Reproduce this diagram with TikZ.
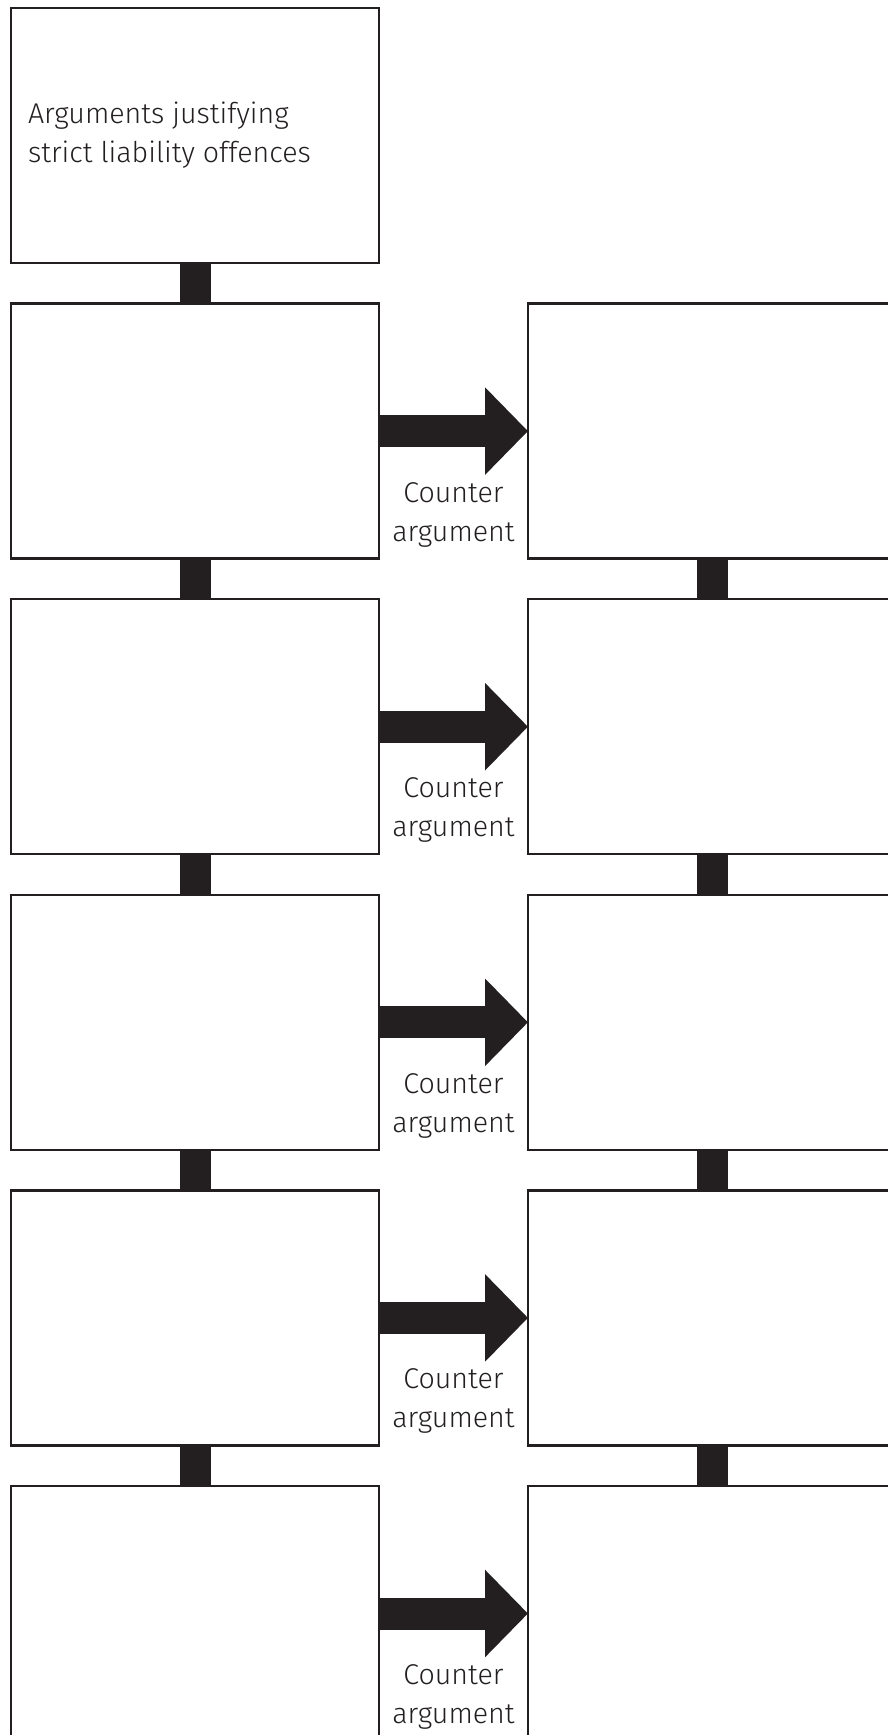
\documentclass[tikz,border=0pt]{standalone}
\usepackage{fontspec}
\setmainfont{Fira Sans}[UprightFont=* Light]
\usetikzlibrary{positioning,arrows.meta}

\definecolor{ink}{HTML}{231F20}

\tikzset{
  argbox/.style={draw=ink, line width=1.25pt, minimum width=184pt, minimum height=127.5pt, inner sep=0pt, outer sep=0pt},
  link/.style={draw=ink, line width=15.5pt},
  counter/.style={draw=ink, line width=16pt, -{Triangle[length=21.5pt,width=42.5pt]}},
  note/.style={text=ink, font=\fontsize{14.3}{19.5}\selectfont, inner sep=0pt}
}

\begin{document}
\begin{tikzpicture}
  \useasboundingbox (0,0) rectangle (444pt,-867.5pt);
  \clip (0,0) rectangle (444pt,-867.5pt);

  % left column
  \node[argbox, anchor=north west] (l1) at (5.5pt,-4pt) {};
  \node[argbox, below=20.3pt of l1] (l2) {};
  \node[argbox, below=20.3pt of l2] (l3) {};
  \node[argbox, below=20.3pt of l3] (l4) {};
  \node[argbox, below=20.3pt of l4] (l5) {};
  \node[argbox, below=20.3pt of l5] (l6) {};

  % right column
  \node[argbox, right=74.5pt of l2] (r2) {};
  \node[argbox, below=20.3pt of r2] (r3) {};
  \node[argbox, below=20.3pt of r3] (r4) {};
  \node[argbox, below=20.3pt of r4] (r5) {};
  \node[argbox, below=20.3pt of r5] (r6) {};

  \node[note, anchor=base west, align=left] (title) at ([xshift=8.3pt,yshift=-77.4pt]l1.north west)
    {Arguments justifying\\strict liability offences};

  % connectors
  \foreach \a/\b in {l1/l2,l2/l3,l3/l4,l4/l5,l5/l6,r2/r3,r3/r4,r4/r5,r5/r6}
    \draw[link] (\a.south) -- (\b.north);

  % counter arguments
  \foreach \i in {2,...,6}
    \draw[counter] (l\i.east) -- node[note, align=center, anchor=base, yshift=-55pt] (c\i) {Counter\\argument} (r\i.west);
\end{tikzpicture}
\end{document}
